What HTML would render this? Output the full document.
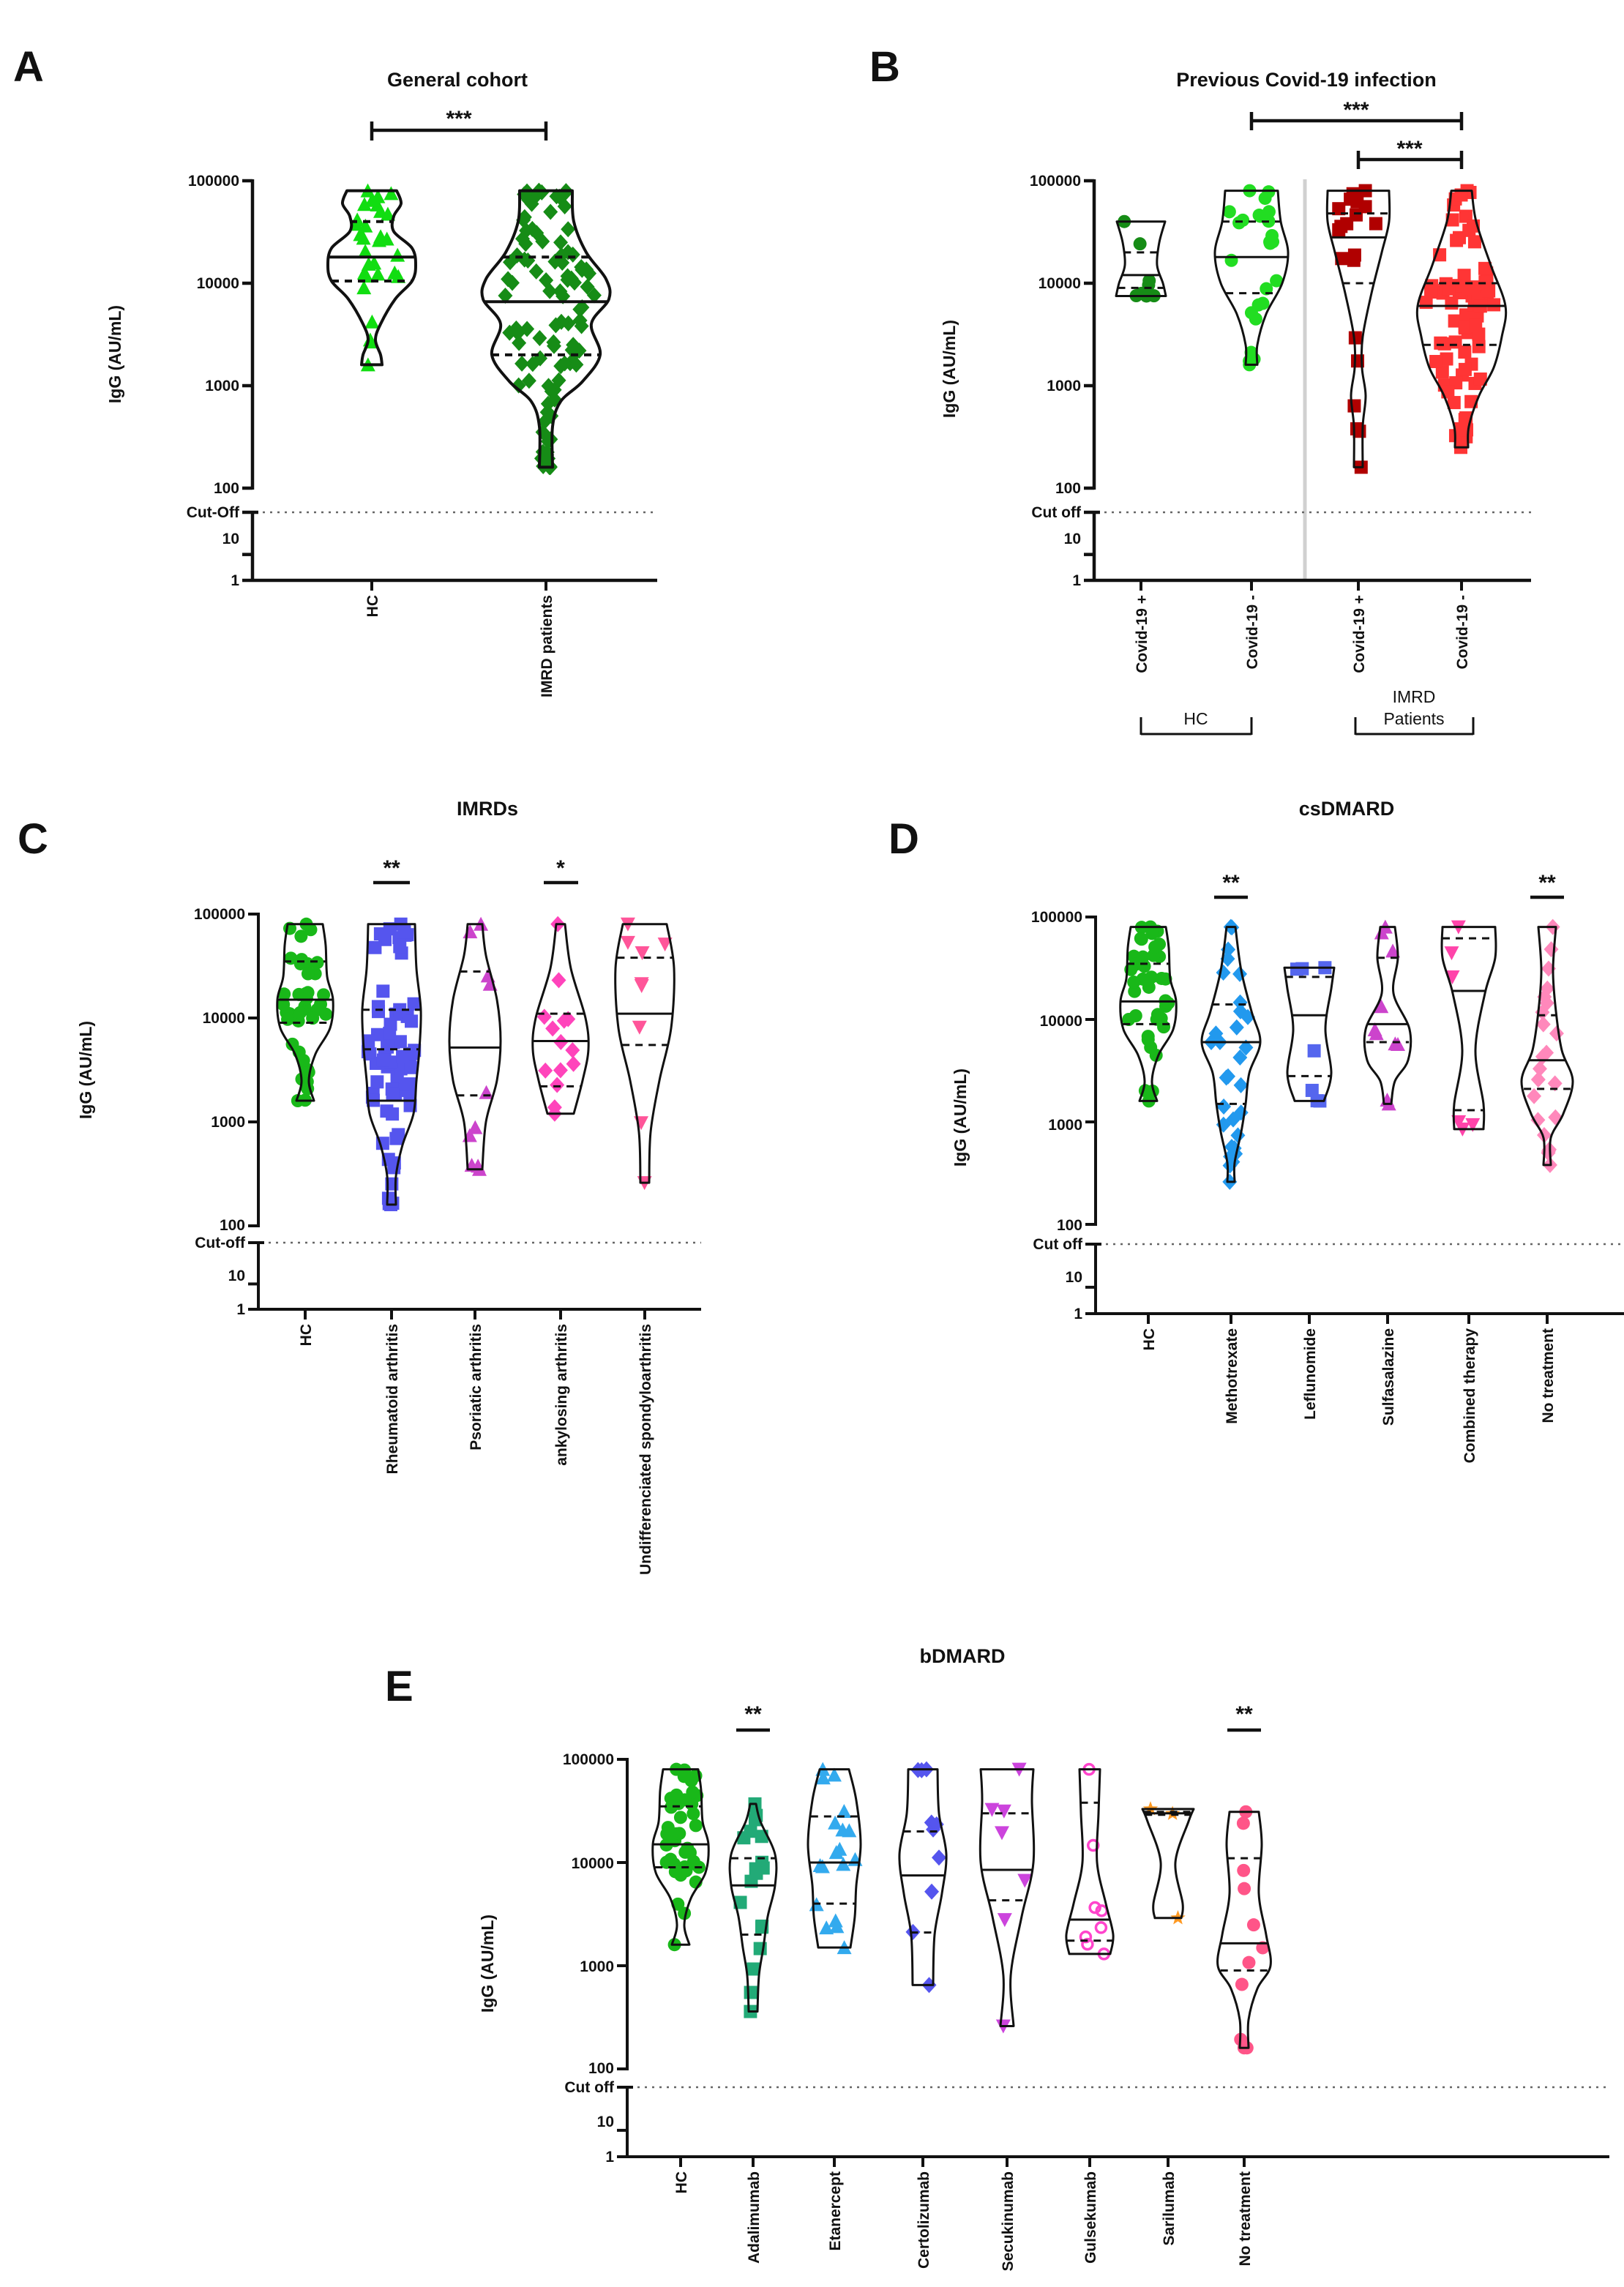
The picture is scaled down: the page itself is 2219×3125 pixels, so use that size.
<!DOCTYPE html>
<html><head><meta charset="utf-8"><style>
html,body{margin:0;padding:0;background:#fff}
svg{display:block}
text{font-family:"Liberation Sans",Arial,sans-serif;font-weight:bold;fill:#111}
.tk{font-size:21px;text-anchor:end}
.xl{font-size:21px;text-anchor:end}
.tt{font-size:27px;text-anchor:middle}
.pl{font-size:58px}
.yl{font-size:23px;text-anchor:middle}
.st{font-size:30px;text-anchor:middle}
</style></head><body>
<svg id="s" width="2219" height="3125" viewBox="0 0 2219 3125" xmlns="http://www.w3.org/2000/svg">
<rect width="2219" height="3125" fill="#fff"/>
<!-- Panel letters and titles -->
<text class="pl" x="18" y="111">A</text>
<text class="pl" x="1188" y="111">B</text>
<text class="pl" x="24" y="1166">C</text>
<text class="pl" x="1214" y="1166">D</text>
<text class="pl" x="526" y="2324">E</text>
<text class="tt" x="625" y="118">General cohort</text>
<text class="tt" x="1785" y="118">Previous Covid-19 infection</text>
<text class="tt" x="666" y="1114">IMRDs</text>
<text class="tt" x="1840" y="1114">csDMARD</text>
<text class="tt" x="1315" y="2272">bDMARD</text>
<!-- y labels -->
<text class="yl" transform="translate(165,484) rotate(-90)">IgG (AU/mL)</text>
<text class="yl" transform="translate(1305,504) rotate(-90)">IgG (AU/mL)</text>
<text class="yl" transform="translate(125,1462) rotate(-90)">IgG (AU/mL)</text>
<text class="yl" transform="translate(1320,1527) rotate(-90)">IgG (AU/mL)</text>
<text class="yl" transform="translate(674,2683) rotate(-90)">IgG (AU/mL)</text>
<!-- A tick labels -->
<g class="tk">
<text class="tk" x="327" y="254">100000</text><text class="tk" x="327" y="394">10000</text><text class="tk" x="327" y="534">1000</text><text class="tk" x="327" y="674">100</text><text class="tk" x="327" y="707">Cut-Off</text><text class="tk" x="327" y="743">10</text><text class="tk" x="327" y="800">1</text>
<text class="tk" x="1477" y="254">100000</text><text class="tk" x="1477" y="394">10000</text><text class="tk" x="1477" y="534">1000</text><text class="tk" x="1477" y="674">100</text><text class="tk" x="1477" y="707">Cut off</text><text class="tk" x="1477" y="743">10</text><text class="tk" x="1477" y="800">1</text>
<text class="tk" x="335" y="1256">100000</text><text class="tk" x="335" y="1398">10000</text><text class="tk" x="335" y="1540">1000</text><text class="tk" x="335" y="1681">100</text><text class="tk" x="335" y="1705">Cut-off</text><text class="tk" x="335" y="1750">10</text><text class="tk" x="335" y="1796">1</text>
<text class="tk" x="1479" y="1260">100000</text><text class="tk" x="1479" y="1402">10000</text><text class="tk" x="1479" y="1544">1000</text><text class="tk" x="1479" y="1681">100</text><text class="tk" x="1479" y="1707">Cut off</text><text class="tk" x="1479" y="1752">10</text><text class="tk" x="1479" y="1802">1</text>
<text class="tk" x="839" y="2411">100000</text><text class="tk" x="839" y="2553">10000</text><text class="tk" x="839" y="2694">1000</text><text class="tk" x="839" y="2833">100</text><text class="tk" x="839" y="2859">Cut off</text><text class="tk" x="839" y="2906">10</text><text class="tk" x="839" y="2954">1</text>
</g>
<!-- x labels -->
<text class="xl" transform="translate(516,813) rotate(-90)">HC</text>
<text class="xl" transform="translate(754,813) rotate(-90)">IMRD patients</text>
<text class="xl" transform="translate(1567,813) rotate(-90)">Covid-19 +</text>
<text class="xl" transform="translate(1718,813) rotate(-90)">Covid-19 -</text>
<text class="xl" transform="translate(1864,813) rotate(-90)">Covid-19 +</text>
<text class="xl" transform="translate(2005,813) rotate(-90)">Covid-19 -</text>
<text class="tt" style="font-size:23px;font-weight:normal" x="1634" y="990">HC</text>
<text class="tt" style="font-size:23px;font-weight:normal" x="1932" y="960">IMRD</text>
<text class="tt" style="font-size:23px;font-weight:normal" x="1932" y="990">Patients</text>
<text class="xl" transform="translate(425,1809) rotate(-90)">HC</text>
<text class="xl" transform="translate(543,1809) rotate(-90)">Rheumatoid arthritis</text>
<text class="xl" transform="translate(657,1809) rotate(-90)">Psoriatic arthritis</text>
<text class="xl" transform="translate(774,1809) rotate(-90)">ankylosing arthritis</text>
<text class="xl" transform="translate(889,1809) rotate(-90)">Undifferenciated spondyloarthritis</text>
<text class="xl" transform="translate(1577,1815) rotate(-90)">HC</text>
<text class="xl" transform="translate(1690,1815) rotate(-90)">Methotrexate</text>
<text class="xl" transform="translate(1797,1815) rotate(-90)">Leflunomide</text>
<text class="xl" transform="translate(1904,1815) rotate(-90)">Sulfasalazine</text>
<text class="xl" transform="translate(2015,1815) rotate(-90)">Combined therapy</text>
<text class="xl" transform="translate(2122,1815) rotate(-90)">No treatment</text>
<text class="xl" transform="translate(938,2967) rotate(-90)">HC</text>
<text class="xl" transform="translate(1037,2967) rotate(-90)">Adalimumab</text>
<text class="xl" transform="translate(1148,2967) rotate(-90)">Etanercept</text>
<text class="xl" transform="translate(1269,2967) rotate(-90)">Certolizumab</text>
<text class="xl" transform="translate(1384,2967) rotate(-90)">Secukinumab</text>
<text class="xl" transform="translate(1497,2967) rotate(-90)">Gulsekumab</text>
<text class="xl" transform="translate(1604,2967) rotate(-90)">Sarilumab</text>
<text class="xl" transform="translate(1708,2967) rotate(-90)">No treatment</text>
<!-- stars -->
<text class="st" x="627" y="172">***</text>
<text class="st" x="1853" y="160">***</text>
<text class="st" x="1926" y="213">***</text>
<text class="st" x="535" y="1196">**</text>
<text class="st" x="766" y="1196">*</text>
<text class="st" x="1682" y="1216">**</text>
<text class="st" x="2114" y="1216">**</text>
<text class="st" x="1029" y="2352">**</text>
<text class="st" x="1700" y="2352">**</text>
<g id="g"></g>
</svg>
<script>
var NS="http://www.w3.org/2000/svg",G=document.getElementById("g");
function el(t,a){var e=document.createElementNS(NS,t);for(var k in a)e.setAttribute(k,a[k]);G.appendChild(e);return e}
function line(x1,y1,x2,y2,w,c,d){var a={x1:x1,y1:y1,x2:x2,y2:y2,stroke:c||"#111","stroke-width":w||4};if(d)a["stroke-dasharray"]=d;return el("line",a)}
function axis(ax,top,dec,cut,bot,xend,tw){
 tw=tw||4;var y100=top+3*dec;
 line(ax,top-2,ax,y100+2,tw);
 for(var i=0;i<4;i++)line(ax-14,top+i*dec,ax,top+i*dec,tw);
 line(ax,cut-2,ax,bot+2,tw);line(ax-14,cut,ax+8,cut,tw);
 var y10=cut+(bot-cut)*0.62;line(ax-14,y10,ax,y10,tw);
 line(ax-14,bot,xend,bot,tw);
 line(ax+14,cut,xend,cut,2.5,"#666","3 7");
}
function xt(xs,bot){xs.forEach(function(x){line(x,bot,x,bot+14,4)})}
var seed=7;function rnd(){seed=(seed*16807)%2147483647;return seed/2147483647}
function mk(shape,x,y,c,r){r=r||9;
 if(shape=="c")el("circle",{cx:x,cy:y,r:r,fill:c});
 else if(shape=="o")el("circle",{cx:x,cy:y,r:r-2,fill:"none",stroke:c,"stroke-width":3.5});
 else if(shape=="s")el("rect",{x:x-r,y:y-r,width:2*r,height:2*r,fill:c});
 else if(shape=="d")el("polygon",{points:[x,y-r-2,x+r+1,y,x,y+r+2,x-r-1,y].join(" "),fill:c});
 else if(shape=="t")el("polygon",{points:[x,y-r-1,x+r+1,y+r,x-r-1,y+r].join(" "),fill:c});
 else if(shape=="v")el("polygon",{points:[x,y+r+1,x+r+1,y-r,x-r-1,y-r].join(" "),fill:c});
 else if(shape=="*"){var p=[];for(var i=0;i<10;i++){var a=-Math.PI/2+i*Math.PI/5,rr=i%2?r*0.5:r*1.2;p.push(x+rr*Math.cos(a),y+rr*Math.sin(a))}el("polygon",{points:p.join(" "),fill:c})}
}
function hwAt(prof,v){var L=Math.log10(v);for(var i=0;i<prof.length-1;i++){var a=Math.log10(prof[i][0]),b=Math.log10(prof[i+1][0]);if(L<=a&&L>=b){var t=(a-L)/(a-b||1);return prof[i][1]*(1-t)+prof[i+1][1]*t}}return prof[prof.length-1][1]}
function cr(pts){var d="";for(var i=0;i<pts.length-1;i++){var p0=pts[i-1]||pts[i],p1=pts[i],p2=pts[i+1],p3=pts[i+2]||p2;
 d+=" C"+(p1[0]+(p2[0]-p0[0])/6)+","+(p1[1]+(p2[1]-p0[1])/6)+" "+(p2[0]-(p3[0]-p1[0])/6)+","+(p2[1]-(p3[1]-p1[1])/6)+" "+p2[0]+","+p2[1]}return d}
function violin(o){
 var yf=function(v){return o.top+(5-Math.log10(v))*o.dec};
 var R=o.p.map(function(q){return[o.x+q[1],yf(q[0])]}),Lp=o.p.map(function(q){return[o.x-q[1],yf(q[0])]}).reverse();
 var d="M"+Lp[Lp.length-1][0]+","+Lp[Lp.length-1][1]+" L"+R[0][0]+","+R[0][1]+cr(R)+" L"+Lp[0][0]+","+Lp[0][1]+cr(Lp)+" Z";
 // points
 var n=o.n,mx=o.p[0][0],mn=o.p[o.p.length-1][0];var qs=[mn,o.q1,o.m,o.q3,mx];
 var pts=[[mx,0],[mn,0]];
 for(var i=2;i<n;i++){var seg=Math.floor(rnd()*4),a=Math.log10(qs[seg]),b=Math.log10(qs[seg+1]);pts.push([Math.pow(10,a+(b-a)*rnd()),0])}
 pts.forEach(function(q){var w=hwAt(o.p,q[0]);var x=o.x+(rnd()*2-1)*Math.max(w*0.85,2);mk(o.sh,x,yf(q[0]),o.c,o.r)});
 el("path",{d:d,fill:"none",stroke:"#111","stroke-width":o.sw||3.5,"stroke-linejoin":"round"});
 [[o.q1,1],[o.m,0],[o.q3,1]].forEach(function(q){var w=hwAt(o.p,q[0]);line(o.x-w,yf(q[0]),o.x+w,yf(q[0]),o.sw||3.5,"#111",q[1]?"10 8":null)});
}
// ---------- Panel A
axis(345,247,140,700,793,898,4.5);xt([508,746],793);
line(508,178,746,178,4.5);line(508,166,508,192,4.5);line(746,166,746,192,4.5);
var A={top:247,dec:140,sw:4};
function V(base,o){for(var k in base)if(o[k]===undefined)o[k]=base[k];violin(o)}
V(A,{x:508,p:[[80000,34],[60000,40],[45000,30],[32000,30],[22000,55],[15000,60],[10500,55],[7000,32],[4000,12],[2800,5],[2000,12],[1600,14]],m:18000,q1:10500,q3:40000,n:30,sh:"t",c:"#11dd11"});
V(A,{x:746,p:[[80000,36],[40000,38],[20000,55],[11000,82],[7000,86],[4000,62],[2000,74],[1100,50],[700,20],[400,9],[160,9]],m:6600,q1:2000,q3:18000,n:100,sh:"d",c:"#168c16"});
// ---------- Panel B
line(1783,245,1783,793,5,"#d0d0d0");
axis(1495,247,140,700,793,2092,4.5);xt([1559,1710,1856,1997],793);
line(1710,165,1997,165,4.5);line(1710,153,1710,178,4.5);line(1997,153,1997,178,4.5);
line(1856,218,1997,218,4.5);line(1856,206,1856,231,4.5);line(1997,206,1997,231,4.5);
line(1559,980,1559,1004,3);line(1710,980,1710,1004,3);line(1559,1003,1710,1003,3);
line(1852,980,1852,1004,3);line(2013,980,2013,1004,3);line(1852,1003,2013,1003,3);
var B={top:247,dec:140,sw:3};
V(B,{x:1559,p:[[40000,33],[25000,25],[15000,22],[10000,30],[7500,34]],m:12000,q1:9000,q3:20000,n:8,sh:"c",c:"#168c16"});
V(B,{x:1710,p:[[80000,36],[40000,40],[20000,50],[10000,42],[5000,20],[2500,8],[1600,8]],m:18000,q1:8000,q3:40000,n:25,sh:"c",c:"#22dd22"});
V(B,{x:1856,p:[[80000,42],[40000,42],[20000,32],[8000,18],[3000,6],[1500,5],[800,10],[400,6],[160,6]],m:28000,q1:10000,q3:48000,n:20,sh:"s",c:"#b00000"});
V(B,{x:1997,p:[[80000,14],[40000,20],[15000,40],[6000,60],[3000,55],[1500,44],[800,24],[400,10],[250,9]],m:6000,q1:2500,q3:10000,n:80,sh:"s",c:"#ff3535"});
// ---------- Panel C
axis(353,1249,142,1698,1789,958,4);xt([417,535,649,766,881],1789);
line(510,1206,560,1206,4.5);line(743,1206,790,1206,4.5);
var C={top:1249,dec:142,sw:3};
V(C,{x:417,p:[[80000,24],[50000,28],[25000,30],[15000,38],[8000,34],[4500,14],[2500,5],[1600,12]],m:15000,q1:9000,q3:35000,n:40,sh:"c",c:"#19b819"});
V(C,{x:535,p:[[80000,32],[30000,34],[12000,40],[5000,38],[2500,34],[1200,30],[600,15],[300,6],[160,6]],m:1600,q1:5000,q3:12000,n:70,sh:"s",c:"#5555ee"});
V(C,{x:649,p:[[80000,10],[40000,15],[15000,30],[6000,35],[2500,30],[1000,15],[350,10]],m:5200,q1:1800,q3:28000,n:10,sh:"t",c:"#cc44cc"});
V(C,{x:766,p:[[80000,6],[30000,14],[10000,34],[5000,38],[2500,30],[1200,18]],m:6000,q1:2200,q3:11000,n:14,sh:"d",c:"#ff44bb"});
V(C,{x:881,p:[[80000,30],[30000,40],[8000,36],[2500,20],[800,8],[260,6]],m:11000,q1:5500,q3:38000,n:9,sh:"v",c:"#ff5599"});
// ---------- Panel D
axis(1497,1253,140,1700,1795,2219,4);xt([1569,1682,1789,1896,2007,2114],1795);
line(1659,1226,1705,1226,4.5);line(2091,1226,2137,1226,4.5);
var D={top:1253,dec:140,sw:3};
V(D,{x:1569,p:[[80000,24],[50000,28],[25000,30],[15000,38],[8000,34],[4500,14],[2500,5],[1600,12]],m:15000,q1:9000,q3:35000,n:40,sh:"c",c:"#19b819"});
V(D,{x:1682,p:[[80000,6],[30000,14],[12000,28],[6000,40],[3000,25],[1500,20],[800,14],[400,5],[260,5]],m:6000,q1:1500,q3:14000,n:30,sh:"d",c:"#2299ee"});
V(D,{x:1789,p:[[32000,34],[20000,30],[8000,22],[3000,30],[1600,20]],m:11000,q1:2800,q3:26000,n:7,sh:"s",c:"#5566ee"});
V(D,{x:1896,p:[[80000,10],[40000,14],[18000,8],[8000,30],[4000,28],[2500,10],[1500,5]],m:9000,q1:6000,q3:40000,n:10,sh:"t",c:"#cc44cc"});
V(D,{x:2007,p:[[80000,36],[40000,36],[18000,22],[5000,9],[1500,20],[850,20]],m:19000,q1:1300,q3:62000,n:6,sh:"v",c:"#ff44aa"});
V(D,{x:2114,p:[[80000,12],[30000,8],[12000,12],[5000,20],[2500,35],[1200,22],[700,5],[380,5]],m:4000,q1:2100,q3:11000,n:22,sh:"d",c:"#ff88bb"});
// ---------- Panel E
axis(857,2404,141,2852,2947,2199,4);xt([930,1029,1140,1261,1376,1489,1596,1700],2947);
line(1006,2364,1052,2364,4.5);line(1677,2364,1723,2364,4.5);
var E={top:2404,dec:141,sw:3};
V(E,{x:930,p:[[80000,24],[50000,28],[25000,30],[15000,38],[8000,34],[4500,14],[2500,5],[1600,12]],m:15000,q1:9000,q3:35000,n:40,sh:"c",c:"#19b819"});
V(E,{x:1029,p:[[37000,4],[25000,10],[12000,30],[6000,30],[3000,20],[1500,14],[800,8],[360,6]],m:6000,q1:2000,q3:11000,n:18,sh:"s",c:"#22aa77"});
V(E,{x:1140,p:[[80000,20],[40000,30],[15000,36],[6000,30],[3000,28],[1500,22]],m:10000,q1:4000,q3:28000,n:18,sh:"t",c:"#33aaee"});
V(E,{x:1261,p:[[80000,20],[30000,22],[12000,32],[5000,26],[2000,16],[650,14]],m:7500,q1:2100,q3:20000,n:10,sh:"d",c:"#5555ee"});
V(E,{x:1376,p:[[80000,36],[40000,34],[10000,36],[3000,20],[800,5],[260,9]],m:8500,q1:4300,q3:30000,n:7,sh:"v",c:"#cc44dd"});
V(E,{x:1489,p:[[80000,14],[30000,12],[10000,10],[4000,22],[2000,32],[1300,28]],m:2800,q1:1750,q3:38000,n:8,sh:"o",c:"#ff44cc"});
V(E,{x:1596,p:[[33000,35],[25000,28],[10000,10],[4000,20],[2900,18]],m:30000,q1:29000,q3:31000,n:3,sh:"*",c:"#ff9922"});
V(E,{x:1700,p:[[31000,20],[15000,24],[5000,20],[2000,30],[1000,36],[600,18],[300,6],[160,6]],m:1650,q1:900,q3:11000,n:11,sh:"c",c:"#ff5588"});
</script>
</body></html>
